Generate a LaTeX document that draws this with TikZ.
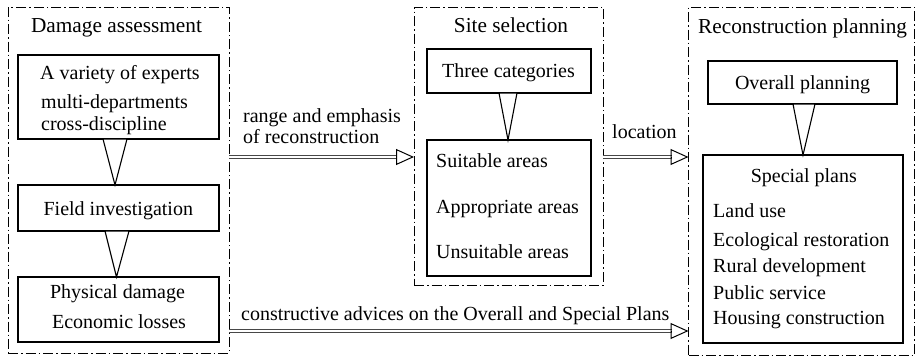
\documentclass[tikz,border=0pt]{standalone}
\usepackage{fontspec}
\setmainfont{Liberation Serif}
\usetikzlibrary{arrows.meta}
\begin{document}
\begin{tikzpicture}[x=1pt,y=-1pt,
  group/.style={draw, line width=1pt, dash pattern=on 10pt off 3pt on 1.5pt off 3pt, inner sep=0pt, outer sep=0pt},
  box/.style={draw, line width=1.2pt, inner sep=0pt, outer sep=0pt},
  tri/.style={draw, line width=1.1pt, fill=white},
  title/.style={font=\fontsize{21.3}{24}\selectfont, anchor=base, inner sep=0pt},
  txt/.style={font=\fontsize{20}{23}\selectfont, anchor=base, inner sep=0pt},
  ltxt/.style={txt, anchor=base west},
  flow/.style={draw=black!72, line width=0.9pt, double=white, double distance=1.3pt, shorten >=17pt},
  flowhead/.style={-{Triangle[open,length=18pt,width=16pt,line width=1pt]}, line width=1pt}
]
\useasboundingbox (0,0) rectangle (916,356);

% stage groups
\node[group, minimum width=221pt, minimum height=346pt] (grpA) at (118.5,180) {};
\node[group, minimum width=189pt, minimum height=278pt] (grpB) at (508.5,146) {};
\node[group, minimum width=226pt, minimum height=348pt] (grpC) at (801.5,181) {};

\node[title, anchor=base] (tA) at (116.5,32) {Damage assessment};
\node[title, anchor=base] (tB) at (511,32) {Site selection};
\node[title, anchor=base west] (tC) at (698,33) {Reconstruction planning};

% damage assessment
\node[box, minimum width=201pt, minimum height=84pt] (experts) at (118.5,97) {};
\node[ltxt] (e1) at (40,79) {A variety of experts};
\node[ltxt] (e2) at (41,108) {multi-departments};
\node[ltxt] (e3) at (41,130) {cross-discipline};

\node[box, minimum width=201pt, minimum height=46pt] (field) at (118.5,208) {};
\node[txt] (f1) at (118.3,215) {Field investigation};

\node[box, minimum width=201pt, minimum height=65pt] (phys) at (118.5,309.5) {};
\node[txt] (p1) at (117.5,298) {Physical damage};
\node[txt] (p2) at (119,328) {Economic losses};

\draw[tri] ([xshift=-15.5pt]experts.south) -- ([xshift=-3.5pt]field.north) -- ([xshift=8.5pt]experts.south) -- cycle;
\draw[tri] ([xshift=-13.5pt]field.south) -- ([xshift=-2pt]phys.north) -- ([xshift=10.5pt]field.south) -- cycle;

% site selection
\node[box, minimum width=164pt, minimum height=44pt] (three) at (509,71) {};
\node[txt] (c0) at (508.5,77) {Three categories};

\node[box, minimum width=164pt, minimum height=136pt] (areas) at (509,208) {};
\node[ltxt] (a1) at (436,167) {Suitable areas};
\node[ltxt] (a2) at (436,213) {Appropriate areas};
\node[ltxt] (a3) at (436,258) {Unsuitable areas};

\draw[tri] ([xshift=-10pt]three.south) -- ([xshift=-1pt]areas.north) -- ([xshift=8pt]three.south) -- cycle;

% reconstruction planning
\node[box, minimum width=189pt, minimum height=43pt] (overall) at (802.5,82.5) {};
\node[txt] (o1) at (802.5,89) {Overall planning};

\node[box, minimum width=200pt, minimum height=188pt] (special) at (803,249) {};
\node[txt] (s0) at (803.8,182) {Special plans};
\node[ltxt] (s1) at (713,217) {Land use};
\node[ltxt] (s2) at (713,246) {Ecological restoration};
\node[ltxt] (s3) at (713,272) {Rural development};
\node[ltxt] (s4) at (713,299) {Public service};
\node[ltxt] (s5) at (713,324) {Housing construction};

\draw[tri] ([xshift=-9.5pt]overall.south) -- (special.north) -- ([xshift=12.5pt]overall.south) -- cycle;

% flows between stages
\coordinate (f1s) at (grpA.east |- 0,157);
\coordinate (f1e) at (grpB.west |- 0,157);
\coordinate (f2s) at (grpB.east |- 0,157);
\coordinate (f2e) at (grpC.west |- 0,157);
\coordinate (f3s) at (grpA.east |- 0,331);
\coordinate (f3e) at (grpC.west |- 0,331);

\draw[flow] (f1s) -- (f1e);
\draw[flowhead] ([xshift=-18pt]f1e) -- (f1e);
\draw[flow] (f2s) -- (f2e);
\draw[flowhead] ([xshift=-18pt]f2e) -- (f2e);
\draw[flow] (f3s) -- (f3e);
\draw[flowhead] ([xshift=-18pt]f3e) -- (f3e);

\node[ltxt] (l1a) at (243,122) {range and emphasis};
\node[ltxt] (l1b) at (243,143) {of reconstruction};
\node[ltxt] (l2) at (612,138) {location};
\node[ltxt] (l3) at (241,320) {constructive advices on the Overall and Special Plans};
\end{tikzpicture}
\end{document}
